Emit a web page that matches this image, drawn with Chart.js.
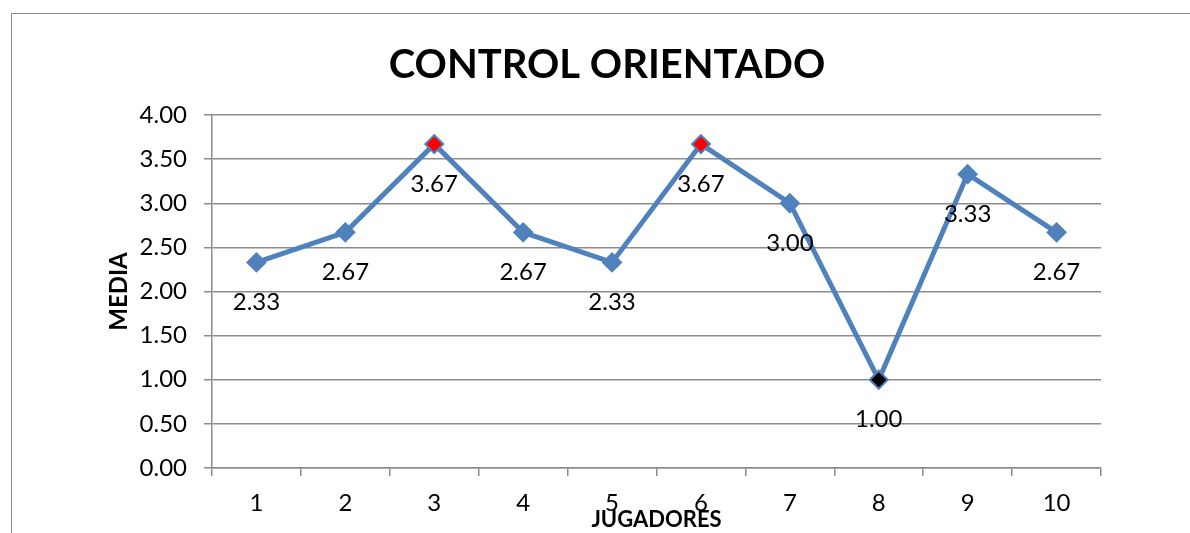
<!DOCTYPE html>
<html>
<head>
<meta charset="utf-8">
<script src="https://cdn.jsdelivr.net/npm/chart.js@4/dist/chart.umd.min.js"></script>
<style>
    html, body { margin: 0; padding: 0; background: #fff; overflow: hidden; }
    #marco {
        position: absolute; left: 11px; top: 13px;
        width: 1400px; height: 700px;
        border-left: 1.5px solid #8c8c8c; border-top: 1.5px solid #8c8c8c;
    }
    #grafico { position: absolute; left: 0; top: 0; }
</style>
</head>
<body>
<div id="marco"></div>
<canvas id="grafico" width="1214" height="533"></canvas>
<script>
// Datos
const jugadores = ['1', '2', '3', '4', '5', '6', '7', '8', '9', '10'];
const medias = [2.33, 2.67, 3.67, 2.67, 2.33, 3.67, 3.00, 1.00, 3.33, 2.67];
const ticksY = [0, 0.5, 1, 1.5, 2, 2.5, 3, 3.5, 4];

const AZUL = '#4F81BD';
const GRIS = '#8c8c8c';
const FUENTE = "Lato, 'Open Sans', sans-serif";

const maximo = Math.max(...medias);
const minimo = Math.min(...medias);

// rojo para el máximo, negro para el mínimo
function colorMarcador(ctx) {
    const v = medias[ctx.dataIndex];
    if (v === maximo) return '#FF0000';
    if (v === minimo) return '#000000';
    return AZUL;
}

// Etiquetas de valor debajo de cada punto
const etiquetasDatos = {
    id: 'etiquetasDatos',
    afterDatasetsDraw(chart) {
        const ctx = chart.ctx;
        const meta = chart.getDatasetMeta(0);
        ctx.save();
        ctx.font = '24px ' + FUENTE;
        ctx.fillStyle = '#000';
        ctx.textAlign = 'center';
        ctx.textBaseline = 'middle';
        meta.data.forEach((punto, i) => {
            ctx.fillText(medias[i].toFixed(2), punto.x, punto.y + 40);
        });
        ctx.restore();
    }
};

new Chart(document.getElementById('grafico'), {
    type: 'line',
    data: {
        labels: jugadores,
        datasets: [{
            data: medias,
            borderColor: AZUL,
            borderWidth: 5,
            tension: 0,
            fill: false,
            pointStyle: 'rectRot',
            pointRadius: 9,
            pointBorderWidth: 2,
            pointBorderColor: AZUL,
            pointBackgroundColor: colorMarcador
        }]
    },
    options: {
        responsive: false,
        animation: false,
        devicePixelRatio: 1,
        layout: { padding: { left: 113, right: 113, top: 0, bottom: 0 } },
        plugins: {
            legend: { display: false },
            tooltip: { enabled: false },
            title: {
                display: true,
                text: 'CONTROL ORIENTADO',
                color: '#000',
                font: { size: 40, weight: 'bold', family: FUENTE, lineHeight: 1.2 },
                padding: { top: 41, bottom: 26 }
            }
        },
        scales: {
            x: {
                offset: true,
                afterFit(scale) { scale.height = 65; },
                grid: {
                    offset: true,
                    drawOnChartArea: false,
                    color: GRIS,
                    lineWidth: 1.5,
                    tickLength: 8
                },
                border: { display: true, color: GRIS, width: 1.5 },
                ticks: {
                    color: '#000',
                    padding: 13,
                    font: { size: 24, family: FUENTE }
                },
                title: {
                    display: true,
                    text: 'JUGADORES',
                    color: '#000',
                    padding: 0,
                    font: { size: 22, weight: 'bold', family: FUENTE, lineHeight: 1.2 }
                }
            },
            y: {
                min: 0,
                max: 4,
                afterFit(scale) { scale.width = 99; },
                afterBuildTicks(scale) { scale.ticks = ticksY.map(v => ({ value: v })); },
                grid: {
                    color: GRIS,
                    lineWidth: 1.5,
                    tickLength: 8
                },
                border: { display: true, color: GRIS, width: 1.5 },
                ticks: {
                    color: '#000',
                    padding: 17,
                    font: { size: 24, family: FUENTE },
                    callback: v => v.toFixed(2)
                },
                title: {
                    display: true,
                    text: 'MEDIA',
                    color: '#000',
                    padding: { top: -8, bottom: 0 },
                    font: { size: 24, weight: 'bold', family: FUENTE, lineHeight: 1.2 }
                }
            }
        }
    },
    plugins: [etiquetasDatos]
});
</script>
</body>
</html>
